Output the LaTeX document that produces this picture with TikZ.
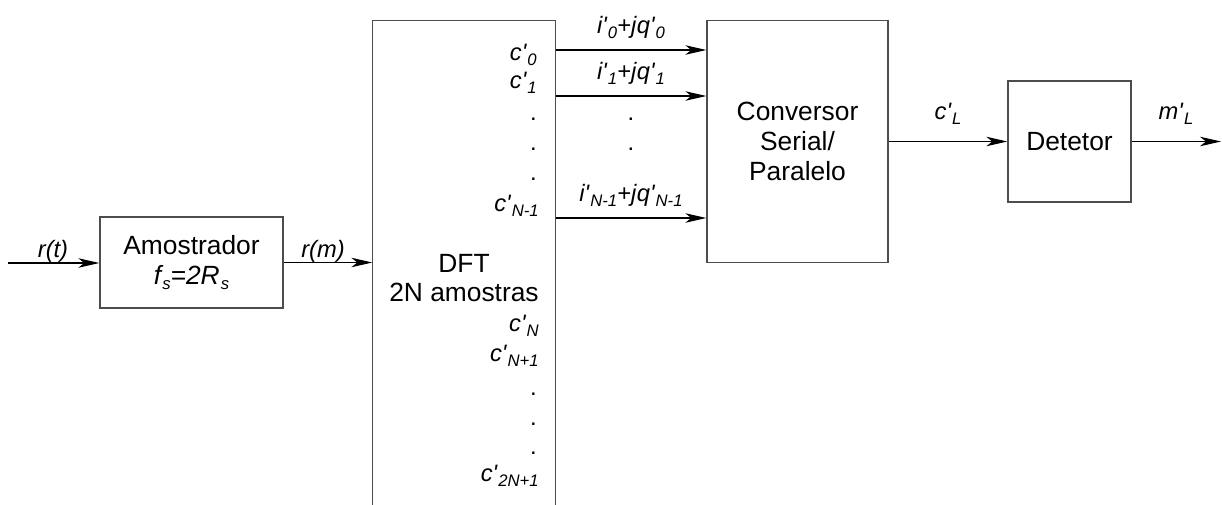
\documentclass[tikz,border=0pt]{standalone}
\usepackage{fontspec}
\setmainfont{Liberation Sans}
\usepackage{tikz}
\usetikzlibrary{arrows.meta,positioning}
\newcommand{\sbs}[1]{\kern0.6pt\raisebox{-3.2pt}{\fontsize{9.5}{10}\selectfont #1}}
\newcommand{\sgn}[2]{\textit{#1\textquotesingle\sbs{#2}}}
\definecolor{bline}{HTML}{4D4D4D}

\begin{document}
\begin{tikzpicture}[x=0.02cm,y=-0.02cm,font=\fontsize{15}{17}\selectfont,
  >={Stealth[length=4.2mm,width=1.9mm,inset=1.2mm]},
  box/.style={draw=bline,line width=0.8pt,align=center,inner sep=0pt},
  wire/.style={->,line width=0.6pt},
  lbl/.style={anchor=base,inner sep=0pt,font=\fontsize{13.5}{16}\selectfont},
  clbl/.style={lbl,anchor=base east}]

\useasboundingbox (0,0) rectangle (1222,504);

\node[box,minimum width=3.66cm,minimum height=1.82cm] (amo) at (191.5,262.5)
  {Amostrador\\\textit{f\sbs{s}=2R\sbs{s}}};
\node[box,draw=none,minimum width=3.64cm,minimum height=9.7cm] (dft) at (464,263.5) {};
\draw[draw=bline,line width=0.8pt] (dft.south west) -- (dft.north west) -- (dft.north east) -- (dft.south east);
\node[align=center,inner sep=0pt] (dfttxt) at (464,278) {DFT\\2N amostras};
\node[box,minimum width=3.62cm,minimum height=4.84cm] (conv) at (797.5,141.5) {Conversor\\Serial/\\Paralelo};
\node[box,minimum width=2.46cm,minimum height=2.42cm] (det) at (1069.5,141.5) {Detetor};

\coordinate (in) at (8,263);
\coordinate (out) at (1221,141.5);

\draw[wire] (in) -- (in -| amo.west);
\draw[wire] (amo.east) -- (amo.east -| dft.west);
\node[lbl] (rt) at (53,257) {\textit{r(t)}};
\node[lbl] (rm) at (323,257) {\textit{r(m)}};

\node[clbl] (c0) at (537,60) {\sgn{c}{0}};
\node[clbl] (c1) at (537,88) {\sgn{c}{1}};
\node[clbl] (cN1) at (539,211) {\sgn{c}{N-1}};
\node[clbl] (cN) at (539,331) {\sgn{c}{N}};
\node[clbl] (cNp) at (539,361) {\sgn{c}{N+1}};
\node[clbl] (c2N) at (539,481) {\sgn{c}{2N+1}};
\foreach \y in {120,150,180,395,425,454}
  \node[clbl] (dot\y) at (537,\y) {.};

\foreach \y/\k in {50/0,96/1,218/N-1}
  \draw[wire] (dft.east |- 0,\y) -- (conv.west |- 0,\y)
    node[lbl,midway,yshift=3.4mm] (iq\y) {\sgn{i}{\k}\textit{+j}\sgn{q}{\k}};
\foreach \y in {120,150}
  \node[lbl] (mdot\y) at (631,\y) {.};

\draw[wire] (det.west -| conv.east) -- (det.west);
\node[lbl] (cL) at (948,119) {\sgn{c}{L}};
\draw[wire] (det.east) -- (out);
\node[lbl] (mL) at (1176,119) {\sgn{m}{L}};
\end{tikzpicture}
\end{document}
